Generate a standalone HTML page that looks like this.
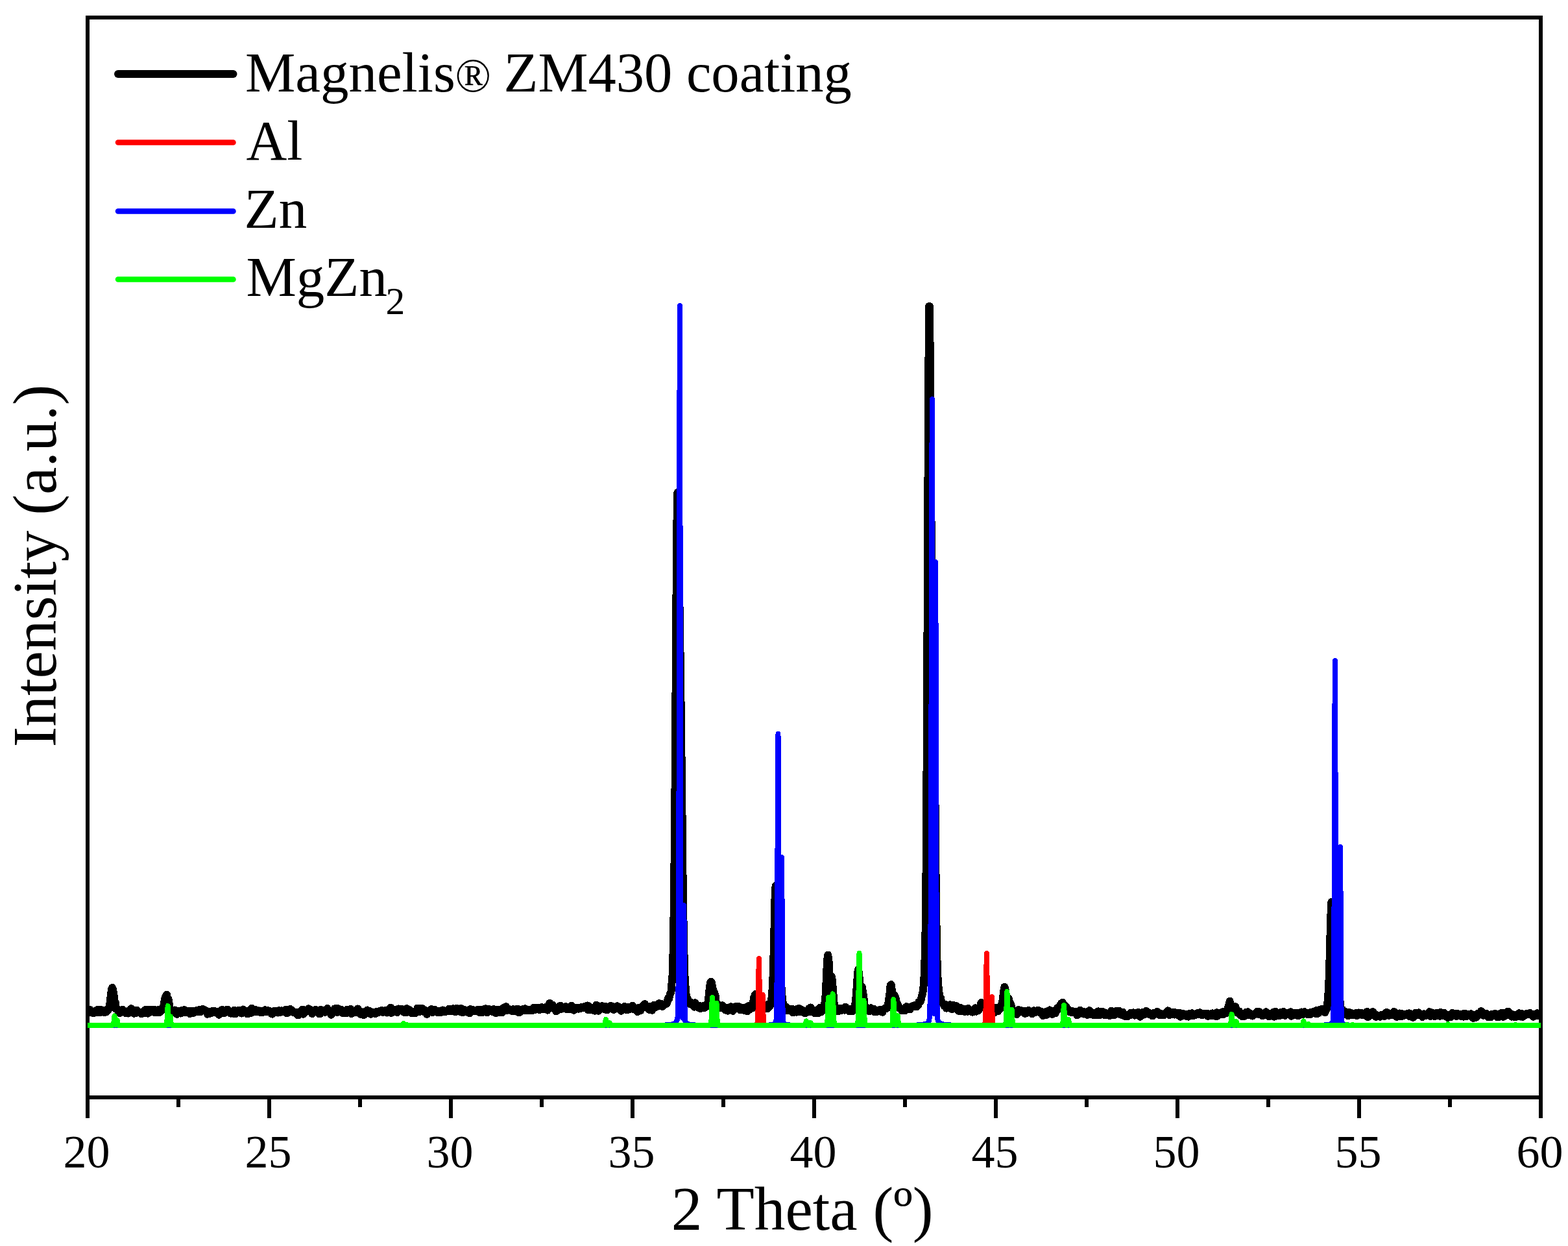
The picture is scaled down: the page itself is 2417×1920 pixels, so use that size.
<!DOCTYPE html>
<html lang="en">
<head>
<meta charset="utf-8">
<title>XRD pattern - Magnelis ZM430 coating</title>
<style>
html,body{margin:0;padding:0;background:#fff;}
body{width:2417px;height:1920px;overflow:hidden;}
svg{display:block;}
text{font-family:"Liberation Serif","Times New Roman",serif;fill:#000;}
.tick{font-size:72px;}
.leg{font-size:87px;}
.ttl{font-size:95.4px;}
.data{fill:none;stroke-linejoin:round;stroke-linecap:butt;}
</style>
</head>
<body>
<svg width="2417" height="1920" viewBox="0 0 2417 1920">
<defs><clipPath id="plotclip"><rect x="135" y="27" width="2240" height="1664"/></clipPath></defs>
<rect x="0" y="0" width="2417" height="1920" fill="#fff"/>
<g class="data" shape-rendering="crispEdges" clip-path="url(#plotclip)">
<polyline stroke="#000" stroke-width="12" points="135,1562.5 136.1,1559.2 137.2,1559.1 138.4,1555.6 139.5,1560.5 140.6,1560.2 141.7,1559.7 142.8,1561 144,1561.1 145.1,1558.4 146.2,1558.5 147.3,1558.8 148.4,1560.3 149.6,1559.5 150.7,1555.8 151.8,1555.6 152.9,1558.8 154,1560.2 155.2,1557.4 156.3,1556.2 157.4,1559.3 158.5,1557 159.6,1558.9 160.8,1560.5 161.9,1559 163,1558.1 164.1,1559.1 165.2,1556.3 166.4,1556.5 167.5,1554.2 168.6,1551.1 169.7,1543.8 170.8,1534.5 172,1524.6 173.1,1521.9 174.2,1525.2 175.3,1531.8 176.4,1541.8 177.6,1544.2 178.7,1554.5 179.8,1554.7 180.9,1554.9 182,1557.8 183.2,1558.9 184.3,1561.2 185.4,1558 186.5,1559.9 187.6,1559.3 188.8,1555.8 189.9,1556.3 191,1559 192.1,1559.7 193.2,1560.8 194.4,1560.2 195.5,1560.4 196.6,1560.4 197.7,1561.6 198.8,1557.4 200,1558 201.1,1558.3 202.2,1554.2 203.3,1559.5 204.4,1556.1 205.6,1557.6 206.7,1561.7 207.8,1556.7 208.9,1557.4 210,1561.2 211.2,1556.7 212.3,1558 213.4,1559.8 214.5,1559.9 215.6,1560.4 216.8,1560.2 217.9,1562.1 219,1561.7 220.1,1560.9 221.2,1558.6 222.4,1558.5 223.5,1556.3 224.6,1560.8 225.7,1556 226.8,1560.4 228,1561.7 229.1,1556.2 230.2,1556.5 231.3,1556.8 232.4,1558.9 233.6,1555.8 234.7,1557 235.8,1556.2 236.9,1557 238,1560 239.2,1556.3 240.3,1558.5 241.4,1559.1 242.5,1560.1 243.6,1556.3 244.8,1560.3 245.9,1559 247,1559.6 248.1,1557.9 249.2,1554.4 250.4,1555 251.5,1554.9 252.6,1548.5 253.7,1541.1 254.8,1537.1 256,1534.7 257.1,1532.7 258.2,1540.5 259.3,1538.9 260.4,1544.2 261.6,1553.5 262.7,1554 263.8,1556.6 264.9,1557.5 266,1557.3 267.2,1559.2 268.3,1558.9 269.4,1556.5 270.5,1559.8 271.6,1559.9 272.8,1562.9 273.9,1557.9 275,1560 276.1,1558.8 277.2,1558.8 278.4,1561.5 279.5,1558.8 280.6,1556.8 281.7,1557.9 282.8,1559 284,1556 285.1,1557.3 286.2,1560.4 287.3,1559.8 288.4,1558.7 289.6,1558.5 290.7,1559.6 291.8,1557.7 292.9,1562.1 294,1561 295.2,1560.6 296.3,1558 297.4,1559 298.5,1560.7 299.6,1559.7 300.8,1557.9 301.9,1559.2 303,1559.5 304.1,1556.7 305.2,1557 306.4,1556.4 307.5,1555.9 308.6,1559.4 309.7,1558.6 310.8,1558 312,1555.1 313.1,1555 314.2,1556.5 315.3,1556.5 316.4,1558 317.6,1557.1 318.7,1560.1 319.8,1562.7 320.9,1562.1 322,1562.2 323.2,1559.4 324.3,1560.8 325.4,1558.5 326.5,1560.7 327.6,1558.4 328.8,1558.1 329.9,1557.8 331,1560.1 332.1,1560 333.2,1560.4 334.4,1558.6 335.5,1561.5 336.6,1559.3 337.7,1563.7 338.8,1560.3 340,1560.2 341.1,1559.1 342.2,1555.9 343.3,1556.2 344.4,1558.6 345.6,1561.3 346.7,1556.7 347.8,1557.5 348.9,1558.7 350,1555.9 351.2,1556 352.3,1558.4 353.4,1559.1 354.5,1558.4 355.6,1561.6 356.8,1558.6 357.9,1559.4 359,1561.4 360.1,1561.9 361.2,1556.5 362.4,1559 363.5,1562 364.6,1557.9 365.7,1558.3 366.8,1557.4 368,1556.9 369.1,1557 370.2,1558.9 371.3,1560.9 372.4,1561.5 373.6,1558.9 374.7,1555.5 375.8,1558.9 376.9,1559 378,1560.7 379.2,1560.4 380.3,1558.1 381.4,1562.5 382.5,1557.4 383.6,1559.1 384.8,1560.1 385.9,1559.4 387,1560.8 388.1,1553.8 389.2,1558.4 390.4,1558.8 391.5,1556.9 392.6,1558.4 393.7,1555.7 394.8,1559.1 396,1559.3 397.1,1557 398.2,1557.9 399.3,1558.5 400.4,1557.5 401.6,1560.3 402.7,1558.5 403.8,1560.3 404.9,1560.1 406,1558.1 407.2,1557.7 408.3,1556.3 409.4,1556.6 410.5,1556.8 411.6,1559.1 412.8,1557.1 413.9,1559 415,1559.4 416.1,1558.4 417.2,1559.1 418.4,1562.1 419.5,1562.6 420.6,1558.5 421.7,1559 422.8,1558 424,1557.6 425.1,1560.1 426.2,1558 427.3,1559.4 428.4,1560.6 429.6,1557.1 430.7,1557.9 431.8,1558.6 432.9,1559.8 434,1557.4 435.2,1558.2 436.3,1558.6 437.4,1558.1 438.5,1557.6 439.6,1556.3 440.8,1555.7 441.9,1561.2 443,1560.8 444.1,1557.8 445.2,1558.1 446.4,1557.7 447.5,1555 448.6,1557.9 449.7,1556.5 450.8,1557.8 452,1560 453.1,1559 454.2,1560.6 455.3,1560.6 456.4,1560.3 457.6,1560.6 458.7,1564.1 459.8,1560.8 460.9,1563.8 462,1559.3 463.2,1562 464.3,1560.9 465.4,1559.2 466.5,1555.6 467.6,1562.8 468.8,1557.8 469.9,1557.8 471,1559.5 472.1,1558.8 473.2,1558.5 474.4,1557 475.5,1554.2 476.6,1557.7 477.7,1555.6 478.8,1558.6 480,1560.2 481.1,1562.2 482.2,1560.8 483.3,1560.1 484.4,1559.6 485.6,1556.1 486.7,1557.5 487.8,1556.4 488.9,1556.5 490,1559.1 491.2,1558.6 492.3,1562.2 493.4,1562.4 494.5,1556.1 495.6,1559.3 496.8,1557 497.9,1559.4 499,1558.3 500.1,1559.8 501.2,1558.7 502.4,1559.6 503.5,1557.8 504.6,1554 505.7,1556.8 506.8,1557.9 508,1559 509.1,1558.5 510.2,1563.7 511.3,1559.6 512.4,1561.4 513.6,1557.6 514.7,1560.3 515.8,1554.4 516.9,1557.7 518,1554.4 519.2,1557.6 520.3,1559.8 521.4,1554.2 522.5,1555.8 523.6,1558 524.8,1557.5 525.9,1555.7 527,1560.3 528.1,1558.7 529.2,1561.3 530.4,1559.9 531.5,1557.7 532.6,1559.2 533.7,1561.5 534.8,1555.8 536,1556.5 537.1,1557.4 538.2,1557.2 539.3,1557.8 540.4,1554.8 541.6,1562 542.7,1559 543.8,1560.3 544.9,1559.9 546,1559 547.2,1557.3 548.3,1558 549.4,1560.4 550.5,1556 551.6,1554.4 552.8,1559.9 553.9,1559.9 555,1560.8 556.1,1563.1 557.2,1559.3 558.4,1561.4 559.5,1562.4 560.6,1564.2 561.7,1563.3 562.8,1559.5 564,1558 565.1,1559.4 566.2,1556.5 567.3,1561.4 568.4,1558.9 569.6,1559.1 570.7,1558.4 571.8,1562.7 572.9,1560.6 574,1559.5 575.2,1561.4 576.3,1560.2 577.4,1561.5 578.5,1562.3 579.6,1559.1 580.8,1560 581.9,1559.5 583,1560.2 584.1,1559.4 585.2,1558.5 586.4,1557.5 587.5,1559.2 588.6,1557 589.7,1559.9 590.8,1558.8 592,1559.5 593.1,1557.6 594.2,1557 595.3,1556.9 596.4,1560.5 597.6,1558.3 598.7,1558.4 599.8,1555.8 600.9,1558.7 602,1552.6 603.2,1560.9 604.3,1557.9 605.4,1558.3 606.5,1555.7 607.6,1556.2 608.8,1559.1 609.9,1557.6 611,1558.7 612.1,1560.1 613.2,1559.1 614.4,1554.5 615.5,1556.1 616.6,1555.8 617.7,1556.6 618.8,1554.9 620,1555.3 621.1,1557.9 622.2,1558.5 623.3,1560 624.4,1557.9 625.6,1560.4 626.7,1554.2 627.8,1554.4 628.9,1557.7 630,1557.1 631.2,1556.2 632.3,1559.7 633.4,1560.6 634.5,1561.3 635.6,1558.7 636.8,1559.7 637.9,1560.4 639,1560.5 640.1,1561.4 641.2,1558.1 642.4,1558.9 643.5,1553.6 644.6,1558.1 645.7,1559.5 646.8,1556.5 648,1558.3 649.1,1553.5 650.2,1555.7 651.3,1554.2 652.4,1558.1 653.6,1559 654.7,1556.3 655.8,1557.9 656.9,1557.9 658,1562.8 659.2,1558 660.3,1557.9 661.4,1557.9 662.5,1557.8 663.6,1556.9 664.8,1555 665.9,1556.1 667,1560.1 668.1,1558.1 669.2,1557.3 670.4,1555.9 671.5,1558.5 672.6,1559 673.7,1557.7 674.8,1560.3 676,1557.6 677.1,1558.2 678.2,1559.9 679.3,1558.5 680.4,1559.8 681.6,1557.2 682.7,1556.6 683.8,1557.9 684.9,1557.5 686,1559.2 687.2,1558 688.3,1557.3 689.4,1558.2 690.5,1558.2 691.6,1554.8 692.8,1556.2 693.9,1555.5 695,1557.9 696.1,1555.1 697.2,1558.1 698.4,1554.2 699.5,1556.5 700.6,1558.7 701.7,1556.5 702.8,1559.1 704,1553.6 705.1,1557.3 706.2,1557.7 707.3,1557.3 708.4,1555 709.6,1559 710.7,1553.9 711.8,1559.8 712.9,1558.6 714,1559.8 715.2,1557.6 716.3,1556.1 717.4,1557.1 718.5,1557.5 719.6,1559.6 720.8,1558.3 721.9,1559.9 723,1560.3 724.1,1561.4 725.2,1555 726.4,1557.2 727.5,1558.7 728.6,1558.2 729.7,1556.3 730.8,1557 732,1557.6 733.1,1558.2 734.2,1557.3 735.3,1556.9 736.4,1555.9 737.6,1557 738.7,1559.9 739.8,1555.6 740.9,1558.6 742,1559.9 743.2,1556.5 744.3,1560 745.4,1555.2 746.5,1558.7 747.6,1556 748.8,1554.3 749.9,1557.4 751,1560.4 752.1,1556.1 753.2,1557.9 754.4,1555.3 755.5,1555.5 756.6,1557.8 757.7,1556.8 758.8,1558.2 760,1559.5 761.1,1555.2 762.2,1556.1 763.3,1557.3 764.4,1561.2 765.6,1556.5 766.7,1556.2 767.8,1557.7 768.9,1560.5 770,1555.7 771.2,1556.1 772.3,1556.5 773.4,1557.7 774.5,1559.9 775.6,1553.6 776.8,1552.5 777.9,1555.4 779,1555.8 780.1,1551.1 781.2,1554 782.4,1556.9 783.5,1554.4 784.6,1556.3 785.7,1555.9 786.8,1556.9 788,1556.6 789.1,1556.4 790.2,1558.3 791.3,1555.2 792.4,1556.4 793.6,1558.3 794.7,1555.4 795.8,1555.8 796.9,1555.1 798,1554.8 799.2,1560 800.3,1557.3 801.4,1559.8 802.5,1557.6 803.6,1556.3 804.8,1555.5 805.9,1556.3 807,1555.6 808.1,1557.4 809.2,1554.3 810.4,1556.1 811.5,1556.7 812.6,1555.5 813.7,1555.7 814.8,1557.2 816,1557.4 817.1,1556.4 818.2,1556.8 819.3,1555.5 820.4,1557 821.6,1555.5 822.7,1552.6 823.8,1554.5 824.9,1555.8 826,1555 827.2,1552.7 828.3,1555.3 829.4,1554.9 830.5,1554.6 831.6,1556 832.8,1552.5 833.9,1553.8 835,1552.1 836.1,1554.6 837.2,1555.2 838.4,1554.4 839.5,1555.1 840.6,1552.5 841.7,1554.9 842.8,1551.4 844,1556.7 845.1,1554.2 846.2,1548.8 847.3,1545.8 848.4,1552.1 849.6,1548.3 850.7,1551.2 851.8,1548.6 852.9,1552.3 854,1552.2 855.2,1555.3 856.3,1554.5 857.4,1558.3 858.5,1553.9 859.6,1556.9 860.8,1554 861.9,1554.4 863,1550.1 864.1,1549.9 865.2,1554.9 866.4,1551.1 867.5,1552.7 868.6,1552.9 869.7,1552 870.8,1554 872,1551.2 873.1,1551.7 874.2,1555.5 875.3,1552.1 876.4,1554.5 877.6,1554 878.7,1555.2 879.8,1553 880.9,1549.6 882,1552.2 883.2,1553.2 884.3,1556.7 885.4,1555.7 886.5,1553.8 887.6,1555 888.8,1553.1 889.9,1554.2 891,1553.1 892.1,1554.6 893.2,1553.2 894.4,1554.2 895.5,1552.3 896.6,1553.5 897.7,1551.8 898.8,1553 900,1552.1 901.1,1551.3 902.2,1550.6 903.3,1551.6 904.4,1553.6 905.6,1549.5 906.7,1556.4 907.8,1550.7 908.9,1554.6 910,1554.5 911.2,1556.4 912.3,1555.7 913.4,1555.2 914.5,1554.9 915.6,1555.8 916.8,1557.6 917.9,1553.6 919,1548.7 920.1,1551.5 921.2,1552.8 922.4,1557.8 923.5,1550.5 924.6,1551.1 925.7,1553 926.8,1552.8 928,1550.2 929.1,1554.4 930.2,1550.7 931.3,1552.6 932.4,1555.5 933.6,1551 934.7,1552.8 935.8,1556.4 936.9,1552.9 938,1551.4 939.2,1552 940.3,1554.4 941.4,1550 942.5,1551.9 943.6,1550.7 944.8,1551.5 945.9,1556 947,1553.9 948.1,1552.9 949.2,1554 950.4,1551.5 951.5,1550.3 952.6,1554 953.7,1554.3 954.8,1552.1 956,1555.6 957.1,1557.7 958.2,1556.8 959.3,1556.4 960.4,1552.9 961.6,1554.4 962.7,1550.9 963.8,1555.6 964.9,1553.5 966,1556.3 967.2,1552.8 968.3,1555.8 969.4,1551.7 970.5,1553.3 971.6,1554.6 972.8,1553.9 973.9,1552.8 975,1549.6 976.1,1555.1 977.2,1554.3 978.4,1555.5 979.5,1555.8 980.6,1553.5 981.7,1555 982.8,1559.1 984,1553.1 985.1,1555.4 986.2,1553.9 987.3,1557.3 988.4,1553.8 989.6,1551 990.7,1551.1 991.8,1549.1 992.9,1547.7 994,1547.1 995.2,1550.8 996.3,1550.2 997.4,1552.6 998.5,1551 999.6,1553.1 1000.8,1555.9 1001.9,1550.9 1003,1550.9 1004.1,1554.6 1005.2,1556.7 1006.4,1550.7 1007.5,1549 1008.6,1551.2 1009.7,1550.5 1010.8,1552 1012,1548.4 1013.1,1549.3 1014.2,1548.7 1015.3,1546.4 1016.4,1546.3 1017.6,1549.7 1018.7,1549.6 1019.8,1547 1020.9,1551 1022,1549.7 1023.2,1548.6 1024.3,1548.5 1025.4,1547.5 1026.5,1547.2 1027.6,1546.3 1028.8,1543.5 1029.9,1538 1031,1539.3 1032.1,1535.3 1033.2,1530.9 1034.4,1528.6 1035.5,1515.2 1036.6,1501.9 1037.7,1463.8 1038.8,1395.5 1040,1284.9 1041.1,1135.3 1042.2,958.4 1043.3,810.7 1044.4,759 1045.6,801.2 1046.7,877.4 1047.8,955.6 1048.9,1031.2 1050,1120 1051.2,1225 1052.3,1331.6 1053.4,1412.8 1054.5,1470.3 1055.6,1507.2 1056.8,1522.2 1057.9,1535.8 1059,1537.1 1060.1,1539.6 1061.2,1542.5 1062.4,1545.7 1063.5,1546.8 1064.6,1547.6 1065.7,1544.9 1066.8,1546.2 1068,1548 1069.1,1550.1 1070.2,1551.6 1071.3,1545.3 1072.4,1549.9 1073.6,1549.9 1074.7,1551 1075.8,1552.1 1076.9,1550.4 1078,1549.8 1079.2,1554.1 1080.3,1553.8 1081.4,1551.8 1082.5,1552.3 1083.6,1551.2 1084.8,1549.8 1085.9,1553.2 1087,1550.6 1088.1,1549.1 1089.2,1548.8 1090.4,1550.2 1091.5,1543.1 1092.6,1534.5 1093.7,1523.5 1094.8,1515.3 1096,1512.7 1097.1,1514.1 1098.2,1522.1 1099.3,1524.9 1100.4,1528.3 1101.6,1531.4 1102.7,1534 1103.8,1545.7 1104.9,1548.3 1106,1547.2 1107.2,1553.6 1108.3,1552.3 1109.4,1553.2 1110.5,1552.5 1111.6,1552.7 1112.8,1551.4 1113.9,1549.3 1115,1551.1 1116.1,1553.5 1117.2,1554.2 1118.4,1556.2 1119.5,1555.8 1120.6,1552.9 1121.7,1557.6 1122.8,1554.2 1124,1552.6 1125.1,1553.8 1126.2,1551.3 1127.3,1554.6 1128.4,1552.6 1129.6,1557.9 1130.7,1554.2 1131.8,1553.9 1132.9,1553.7 1134,1551.1 1135.2,1553.4 1136.3,1553.6 1137.4,1554.4 1138.5,1550.7 1139.6,1554.4 1140.8,1556.4 1141.9,1553 1143,1553.4 1144.1,1554.8 1145.2,1553.1 1146.4,1554.3 1147.5,1557.2 1148.6,1556.4 1149.7,1553.3 1150.8,1551.7 1152,1558.3 1153.1,1554.3 1154.2,1550 1155.3,1553.7 1156.4,1555 1157.6,1553.9 1158.7,1549.3 1159.8,1553.4 1160.9,1545.5 1162,1537.9 1163.2,1534.8 1164.3,1532.2 1165.4,1533.9 1166.5,1538.9 1167.6,1535.6 1168.8,1542.1 1169.9,1543.2 1171,1546.9 1172.1,1550.1 1173.2,1553.6 1174.4,1554.9 1175.5,1554.8 1176.6,1552.9 1177.7,1554.9 1178.8,1552.7 1180,1551.6 1181.1,1553.8 1182.2,1553.3 1183.3,1554.2 1184.4,1547.5 1185.6,1551.4 1186.7,1550.1 1187.8,1546.8 1188.9,1545.1 1190,1531.9 1191.2,1515.3 1192.3,1480.9 1193.4,1434.6 1194.5,1385 1195.6,1365.1 1196.8,1384.7 1197.9,1415.9 1199,1437 1200.1,1441.1 1201.2,1452 1202.4,1468.5 1203.5,1497.6 1204.6,1522.8 1205.7,1536.6 1206.8,1546.3 1208,1548.9 1209.1,1553 1210.2,1551.5 1211.3,1552.7 1212.4,1551.9 1213.6,1555.4 1214.7,1557.4 1215.8,1557.3 1216.9,1555.1 1218,1556 1219.2,1556.7 1220.3,1557.2 1221.4,1554.8 1222.5,1560.4 1223.6,1556.8 1224.8,1557.1 1225.9,1555.9 1227,1556.5 1228.1,1559.7 1229.2,1554.5 1230.4,1555 1231.5,1553.9 1232.6,1554.6 1233.7,1559.3 1234.8,1556.5 1236,1557.8 1237.1,1556.4 1238.2,1560 1239.3,1560.7 1240.4,1559.2 1241.6,1559 1242.7,1560.8 1243.8,1560 1244.9,1558.1 1246,1556.1 1247.2,1554.1 1248.3,1558.9 1249.4,1552.4 1250.5,1557.1 1251.6,1556.5 1252.8,1556.4 1253.9,1560 1255,1558 1256.1,1561.2 1257.2,1556.8 1258.4,1559.1 1259.5,1560.2 1260.6,1555.8 1261.7,1561 1262.8,1558.6 1264,1552.9 1265.1,1558.9 1266.2,1559.4 1267.3,1555.2 1268.4,1554.7 1269.6,1554.5 1270.7,1547.6 1271.8,1543.9 1272.9,1529.4 1274,1501.6 1275.2,1478.4 1276.3,1471.6 1277.4,1479.4 1278.5,1499.2 1279.6,1509 1280.8,1507.8 1281.9,1504.9 1283,1512.1 1284.1,1527.5 1285.2,1541.3 1286.4,1553.3 1287.5,1552.4 1288.6,1554.8 1289.7,1557.7 1290.8,1555.4 1292,1553.9 1293.1,1557.8 1294.2,1555.5 1295.3,1553.8 1296.4,1554.3 1297.6,1556.7 1298.7,1554.4 1299.8,1555.5 1300.9,1556.5 1302,1556.6 1303.2,1551.5 1304.3,1553.8 1305.4,1554 1306.5,1555.3 1307.6,1557.1 1308.8,1558.3 1309.9,1556 1311,1555.3 1312.1,1556.9 1313.2,1554.8 1314.4,1558 1315.5,1554.5 1316.6,1552.3 1317.7,1551.5 1318.8,1542.6 1320,1531.4 1321.1,1513.9 1322.2,1497.9 1323.3,1494 1324.4,1504 1325.6,1517.8 1326.7,1522.7 1327.8,1522.7 1328.9,1520.6 1330,1528.8 1331.2,1535.8 1332.3,1545.8 1333.4,1552.2 1334.5,1555.8 1335.6,1554.3 1336.8,1555.7 1337.9,1554.9 1339,1554.2 1340.1,1558.3 1341.2,1557 1342.4,1553.3 1343.5,1554 1344.6,1556.5 1345.7,1555 1346.8,1554.9 1348,1559.5 1349.1,1557 1350.2,1557.8 1351.3,1559.2 1352.4,1556.7 1353.6,1557.7 1354.7,1557.6 1355.8,1558.3 1356.9,1555.6 1358,1558.8 1359.2,1557.3 1360.3,1559.8 1361.4,1556.9 1362.5,1555.2 1363.6,1554.7 1364.8,1553.2 1365.9,1554.5 1367,1553.3 1368.1,1553 1369.2,1547.3 1370.4,1537.8 1371.5,1530.3 1372.6,1518 1373.7,1517.1 1374.8,1525.7 1376,1532.9 1377.1,1532.8 1378.2,1532.9 1379.3,1534.5 1380.4,1537.1 1381.6,1542.6 1382.7,1549 1383.8,1547.5 1384.9,1552.8 1386,1551.8 1387.2,1553.6 1388.3,1554.4 1389.4,1556 1390.5,1557.3 1391.6,1556.6 1392.8,1555.6 1393.9,1554.4 1395,1557.2 1396.1,1555.1 1397.2,1551.2 1398.4,1553.9 1399.5,1554.5 1400.6,1551.6 1401.7,1553.4 1402.8,1555.5 1404,1552.1 1405.1,1552.2 1406.2,1551.9 1407.3,1550 1408.4,1550.6 1409.6,1549.4 1410.7,1550.2 1411.8,1548.8 1412.9,1551.2 1414,1548.4 1415.2,1549 1416.3,1544 1417.4,1544.5 1418.5,1543.5 1419.6,1541 1420.8,1535.3 1421.9,1531.7 1423,1525.7 1424.1,1513.7 1425.2,1491.5 1426.4,1445.8 1427.5,1346.6 1428.6,1176.5 1429.7,935.6 1430.8,667.4 1432,472.3 1433.1,472 1434.2,616.4 1435.3,785.2 1436.4,880.5 1437.6,908.7 1438.7,937.9 1439.8,1027.6 1440.9,1164.3 1442,1301 1443.2,1406.3 1444.3,1473.8 1445.4,1504.4 1446.5,1520.7 1447.6,1530.5 1448.8,1537.4 1449.9,1537.3 1451,1542.4 1452.1,1544.7 1453.2,1546.1 1454.4,1547.1 1455.5,1550.3 1456.6,1550.7 1457.7,1547.7 1458.8,1553.6 1460,1551.9 1461.1,1551.9 1462.2,1551 1463.3,1551.7 1464.4,1548.3 1465.6,1552.8 1466.7,1554.7 1467.8,1555.2 1468.9,1552.5 1470,1549.1 1471.2,1550.8 1472.3,1551.8 1473.4,1554.2 1474.5,1550.3 1475.6,1554.4 1476.8,1556.6 1477.9,1557.8 1479,1557.8 1480.1,1552.7 1481.2,1558.3 1482.4,1557.1 1483.5,1557.5 1484.6,1554.5 1485.7,1555.3 1486.8,1558.8 1488,1556 1489.1,1556.2 1490.2,1554.9 1491.3,1558.7 1492.4,1553.8 1493.6,1556.1 1494.7,1558 1495.8,1557.5 1496.9,1558.9 1498,1558 1499.2,1559.6 1500.3,1556.5 1501.4,1556.4 1502.5,1557 1503.6,1553.2 1504.8,1558.6 1505.9,1554.2 1507,1557.3 1508.1,1557.4 1509.2,1555.7 1510.4,1552.8 1511.5,1549.4 1512.6,1544.8 1513.7,1547.8 1514.8,1546.3 1516,1550.8 1517.1,1548.4 1518.2,1550.9 1519.3,1549.4 1520.4,1551.3 1521.6,1550.7 1522.7,1552.2 1523.8,1550.4 1524.9,1554 1526,1556.2 1527.2,1559.6 1528.3,1558.5 1529.4,1556.4 1530.5,1561.4 1531.6,1559.2 1532.8,1560.5 1533.9,1556.9 1535,1552.5 1536.1,1556.9 1537.2,1556.3 1538.4,1558.4 1539.5,1554.9 1540.6,1555.5 1541.7,1553.5 1542.8,1553.9 1544,1547.9 1545.1,1545.4 1546.2,1535.5 1547.3,1527.1 1548.4,1520.9 1549.6,1524.5 1550.7,1532.4 1551.8,1535.2 1552.9,1540.7 1554,1537.8 1555.2,1540 1556.3,1544.4 1557.4,1547.5 1558.5,1547.9 1559.6,1555.9 1560.8,1555.9 1561.9,1557.3 1563,1558.8 1564.1,1557.7 1565.2,1560.6 1566.4,1559.3 1567.5,1562.9 1568.6,1561.8 1569.7,1556.1 1570.8,1558.4 1572,1557.8 1573.1,1557.8 1574.2,1557.3 1575.3,1559.2 1576.4,1558.9 1577.6,1557.6 1578.7,1560.7 1579.8,1561.9 1580.9,1559.8 1582,1561.4 1583.2,1559.5 1584.3,1557.3 1585.4,1557.1 1586.5,1558.3 1587.6,1559.7 1588.8,1559.6 1589.9,1561.5 1591,1562.3 1592.1,1558.1 1593.2,1557.4 1594.4,1558.8 1595.5,1559.4 1596.6,1559.7 1597.7,1559.4 1598.8,1559.5 1600,1556.8 1601.1,1559.3 1602.2,1557.6 1603.3,1559.9 1604.4,1561.1 1605.6,1558.8 1606.7,1559.9 1607.8,1565.1 1608.9,1559.7 1610,1560.4 1611.2,1559.6 1612.3,1559.2 1613.4,1563.7 1614.5,1560.6 1615.6,1560.6 1616.8,1560.1 1617.9,1556.4 1619,1562.5 1620.1,1560 1621.2,1560.6 1622.4,1562.9 1623.5,1560 1624.6,1560.2 1625.7,1559.9 1626.8,1561.5 1628,1556.4 1629.1,1556.9 1630.2,1552.9 1631.3,1555.3 1632.4,1554.3 1633.6,1549.6 1634.7,1550.9 1635.8,1546.4 1636.9,1547.1 1638,1544.7 1639.2,1549.7 1640.3,1547.9 1641.4,1551.6 1642.5,1551.9 1643.6,1551.6 1644.8,1556.5 1645.9,1557.5 1647,1555.6 1648.1,1559.1 1649.2,1558.8 1650.4,1559.2 1651.5,1560 1652.6,1557.8 1653.7,1559.5 1654.8,1560 1656,1558.7 1657.1,1559.2 1658.2,1561.8 1659.3,1560.3 1660.4,1564.3 1661.6,1563.7 1662.7,1558.5 1663.8,1560.2 1664.9,1556.6 1666,1559.6 1667.2,1559.7 1668.3,1560.5 1669.4,1558.6 1670.5,1562.6 1671.6,1562.2 1672.8,1560.3 1673.9,1561.4 1675,1563 1676.1,1563.9 1677.2,1558.4 1678.4,1563.3 1679.5,1557.1 1680.6,1558.4 1681.7,1559.5 1682.8,1563.3 1684,1562.1 1685.1,1562.4 1686.2,1564.5 1687.3,1562.1 1688.4,1560.8 1689.6,1564.2 1690.7,1561.1 1691.8,1559.2 1692.9,1558.3 1694,1561.5 1695.2,1564.4 1696.3,1562.2 1697.4,1560.9 1698.5,1563.2 1699.6,1558.6 1700.8,1562.2 1701.9,1560.6 1703,1564.2 1704.1,1560.6 1705.2,1563.8 1706.4,1563.1 1707.5,1563.1 1708.6,1564.6 1709.7,1562.7 1710.8,1565 1712,1561.6 1713.1,1557.7 1714.2,1563.6 1715.3,1563.6 1716.4,1562.2 1717.6,1564 1718.7,1562.9 1719.8,1560.3 1720.9,1557.9 1722,1559.4 1723.2,1560.5 1724.3,1561.6 1725.4,1557.9 1726.5,1559.1 1727.6,1563.6 1728.8,1560 1729.9,1560.2 1731,1560.1 1732.1,1565.1 1733.2,1564.1 1734.4,1564.7 1735.5,1566.5 1736.6,1565.8 1737.7,1566.2 1738.8,1564.3 1740,1565 1741.1,1564.3 1742.2,1564.2 1743.3,1560.6 1744.4,1562 1745.6,1561.4 1746.7,1560.5 1747.8,1561.3 1748.9,1564.6 1750,1563.1 1751.2,1561.6 1752.3,1562.1 1753.4,1564 1754.5,1559.8 1755.6,1563.2 1756.8,1565.9 1757.9,1566.6 1759,1565.5 1760.1,1564.5 1761.2,1560 1762.4,1561.6 1763.5,1562.4 1764.6,1562.8 1765.7,1562.7 1766.8,1557.9 1768,1560.9 1769.1,1562.2 1770.2,1560.3 1771.3,1561.7 1772.4,1563.4 1773.6,1563.5 1774.7,1563.7 1775.8,1565.1 1776.9,1565.4 1778,1562.5 1779.2,1560.7 1780.3,1560.9 1781.4,1560.9 1782.5,1561.6 1783.6,1559 1784.8,1560.2 1785.9,1561 1787,1563.8 1788.1,1562.6 1789.2,1561.7 1790.4,1563.8 1791.5,1562.9 1792.6,1563.3 1793.7,1564.3 1794.8,1562.6 1796,1561.8 1797.1,1562.4 1798.2,1559.7 1799.3,1561 1800.4,1557.4 1801.6,1560.6 1802.7,1564.3 1803.8,1561.2 1804.9,1561.7 1806,1560.9 1807.2,1559.7 1808.3,1562.3 1809.4,1561.3 1810.5,1563.5 1811.6,1560.3 1812.8,1562.2 1813.9,1561.7 1815,1561.5 1816.1,1564.4 1817.2,1561.2 1818.4,1561.1 1819.5,1566.7 1820.6,1562.1 1821.7,1562.4 1822.8,1564.1 1824,1562 1825.1,1564.9 1826.2,1562.7 1827.3,1563.7 1828.4,1563.2 1829.6,1566.3 1830.7,1564.7 1831.8,1566.6 1832.9,1566.1 1834,1561.8 1835.2,1563.7 1836.3,1561.9 1837.4,1561.3 1838.5,1564.7 1839.6,1565.3 1840.8,1563.1 1841.9,1563.6 1843,1563.7 1844.1,1563.5 1845.2,1563.4 1846.4,1560.8 1847.5,1563.4 1848.6,1560.9 1849.7,1560.2 1850.8,1562.1 1852,1563 1853.1,1564.1 1854.2,1563.4 1855.3,1563.4 1856.4,1561.8 1857.6,1563.7 1858.7,1563.5 1859.8,1563.7 1860.9,1561.8 1862,1566.1 1863.2,1564.4 1864.3,1564.2 1865.4,1563.2 1866.5,1562.8 1867.6,1565.1 1868.8,1561.4 1869.9,1563.2 1871,1563.7 1872.1,1565 1873.2,1563.2 1874.4,1566 1875.5,1560.2 1876.6,1565.8 1877.7,1563.3 1878.8,1564 1880,1561.1 1881.1,1563.5 1882.2,1560.8 1883.3,1562 1884.4,1559.2 1885.6,1562.9 1886.7,1562.4 1887.8,1559 1888.9,1561.6 1890,1560.4 1891.2,1560.9 1892.3,1555.2 1893.4,1551.3 1894.5,1548.1 1895.6,1542.7 1896.8,1552 1897.9,1555.7 1899,1559.5 1900.1,1557.2 1901.2,1553.7 1902.4,1554.9 1903.5,1550.8 1904.6,1551.8 1905.7,1558.2 1906.8,1560.1 1908,1560.6 1909.1,1558.7 1910.2,1558.4 1911.3,1563.8 1912.4,1562.3 1913.6,1562.1 1914.7,1566.1 1915.8,1562.2 1916.9,1563.2 1918,1566 1919.2,1562.9 1920.3,1560.5 1921.4,1559.6 1922.5,1563.4 1923.6,1559.2 1924.8,1563 1925.9,1564.5 1927,1561.6 1928.1,1563.6 1929.2,1562.7 1930.4,1565.5 1931.5,1563.8 1932.6,1562.5 1933.7,1563.8 1934.8,1562.8 1936,1560.9 1937.1,1561 1938.2,1558.7 1939.3,1559.9 1940.4,1563 1941.6,1559.2 1942.7,1563.5 1943.8,1563.6 1944.9,1562.3 1946,1565.5 1947.2,1563.9 1948.3,1561.3 1949.4,1562.4 1950.5,1563.7 1951.6,1559.2 1952.8,1562.3 1953.9,1561.5 1955,1562.6 1956.1,1566.2 1957.2,1562 1958.4,1563.1 1959.5,1562.2 1960.6,1565.3 1961.7,1565.7 1962.8,1560 1964,1566.6 1965.1,1566.5 1966.2,1558.7 1967.3,1560.6 1968.4,1564 1969.6,1563.2 1970.7,1565 1971.8,1562.4 1972.9,1565 1974,1560.1 1975.2,1563.1 1976.3,1561.4 1977.4,1561.2 1978.5,1559 1979.6,1561.5 1980.8,1564.8 1981.9,1561.3 1983,1562.2 1984.1,1562.7 1985.2,1560.7 1986.4,1562.8 1987.5,1563.2 1988.6,1561.7 1989.7,1559.3 1990.8,1565.8 1992,1563.7 1993.1,1564.1 1994.2,1564.3 1995.3,1563.2 1996.4,1560.9 1997.6,1563.3 1998.7,1563.2 1999.8,1564.2 2000.9,1565.1 2002,1560.7 2003.2,1564.6 2004.3,1561.7 2005.4,1562.3 2006.5,1559.5 2007.6,1562 2008.8,1559.8 2009.9,1562.7 2011,1559.3 2012.1,1561.8 2013.2,1561.3 2014.4,1562.8 2015.5,1562.9 2016.6,1562.9 2017.7,1561.3 2018.8,1563.3 2020,1562.4 2021.1,1559.6 2022.2,1561.8 2023.3,1559.4 2024.4,1560.8 2025.6,1560.5 2026.7,1560.5 2027.8,1562 2028.9,1557.2 2030,1562.2 2031.2,1556.5 2032.3,1561.4 2033.4,1559.8 2034.5,1555.8 2035.6,1558.6 2036.8,1556.9 2037.9,1554.8 2039,1558.4 2040.1,1558.8 2041.2,1557.9 2042.4,1560.3 2043.5,1557.3 2044.6,1555.3 2045.7,1552.9 2046.8,1539.5 2048,1524.1 2049.1,1495.1 2050.2,1453.1 2051.3,1412 2052.4,1389.9 2053.6,1401.2 2054.7,1434.4 2055.8,1463.8 2056.9,1488.4 2058,1488.3 2059.2,1482.3 2060.3,1469.7 2061.4,1474.6 2062.5,1493.5 2063.6,1516 2064.8,1530.9 2065.9,1548.8 2067,1553.6 2068.1,1556.5 2069.2,1555.4 2070.4,1561.4 2071.5,1559.4 2072.6,1560.5 2073.7,1558.8 2074.8,1563.3 2076,1563.2 2077.1,1561 2078.2,1565.2 2079.3,1560 2080.4,1563.7 2081.6,1563.5 2082.7,1563.7 2083.8,1561.4 2084.9,1561.8 2086,1564 2087.2,1564 2088.3,1561.8 2089.4,1561.2 2090.5,1561.2 2091.6,1565 2092.8,1562.8 2093.9,1562.6 2095,1560.6 2096.1,1561 2097.2,1562.4 2098.4,1560.9 2099.5,1563.9 2100.6,1564.3 2101.7,1562.9 2102.8,1563.7 2104,1564.2 2105.1,1561 2106.2,1565.2 2107.3,1559 2108.4,1567.3 2109.6,1561.2 2110.7,1563.9 2111.8,1563.1 2112.9,1563.9 2114,1561.5 2115.2,1563.3 2116.3,1559 2117.4,1562.7 2118.5,1562 2119.6,1564.4 2120.8,1566.8 2121.9,1564 2123,1566.3 2124.1,1565.5 2125.2,1566.1 2126.4,1566.1 2127.5,1566.6 2128.6,1565.2 2129.7,1564 2130.8,1564.8 2132,1565.1 2133.1,1564.5 2134.2,1566 2135.3,1561.2 2136.4,1562.8 2137.6,1560 2138.7,1561.2 2139.8,1563.5 2140.9,1564.8 2142,1561.9 2143.2,1563.7 2144.3,1563.2 2145.4,1564.1 2146.5,1563.5 2147.6,1562.2 2148.8,1559 2149.9,1560.2 2151,1563.5 2152.1,1562.9 2153.2,1567 2154.4,1563.7 2155.5,1565.5 2156.6,1562.1 2157.7,1561.5 2158.8,1564.1 2160,1566.4 2161.1,1564 2162.2,1562.4 2163.3,1564 2164.4,1564.6 2165.6,1564.6 2166.7,1564.1 2167.8,1562.4 2168.9,1562.1 2170,1563.1 2171.2,1563.6 2172.3,1561.4 2173.4,1566.4 2174.5,1564.7 2175.6,1562.7 2176.8,1565 2177.9,1568 2179,1564.2 2180.1,1564 2181.2,1565.1 2182.4,1560.7 2183.5,1561.8 2184.6,1561.3 2185.7,1564.3 2186.8,1560.4 2188,1564.3 2189.1,1563.2 2190.2,1563.9 2191.3,1563.4 2192.4,1567 2193.6,1562.9 2194.7,1562.4 2195.8,1565.1 2196.9,1563.2 2198,1564.8 2199.2,1563.6 2200.3,1563.4 2201.4,1563.2 2202.5,1559.9 2203.6,1559.1 2204.8,1566 2205.9,1560.1 2207,1562.9 2208.1,1560.5 2209.2,1562.7 2210.4,1562.9 2211.5,1566.3 2212.6,1563.9 2213.7,1561 2214.8,1560.8 2216,1563.3 2217.1,1563.8 2218.2,1565.3 2219.3,1565.8 2220.4,1559.8 2221.6,1562.4 2222.7,1560.7 2223.8,1563.6 2224.9,1564.8 2226,1560.6 2227.2,1565.6 2228.3,1565.7 2229.4,1564.3 2230.5,1563.9 2231.6,1568.1 2232.8,1565.1 2233.9,1563.7 2235,1566 2236.1,1567.2 2237.2,1566.2 2238.4,1561.1 2239.5,1561.8 2240.6,1563 2241.7,1564.2 2242.8,1564.4 2244,1562 2245.1,1566 2246.2,1565.4 2247.3,1562.1 2248.4,1563.4 2249.6,1565.1 2250.7,1562.9 2251.8,1565.9 2252.9,1565.5 2254,1563.8 2255.2,1565 2256.3,1566.6 2257.4,1561.6 2258.5,1563.8 2259.6,1562.3 2260.8,1565.9 2261.9,1565.6 2263,1563.6 2264.1,1562.7 2265.2,1565.3 2266.4,1564 2267.5,1562.2 2268.6,1562.8 2269.7,1564.5 2270.8,1568.9 2272,1567.3 2273.1,1568 2274.2,1567.5 2275.3,1567.7 2276.4,1567.2 2277.6,1562 2278.7,1564.3 2279.8,1563.7 2280.9,1563.5 2282,1563.3 2283.2,1558.1 2284.3,1562.9 2285.4,1560.2 2286.5,1564.8 2287.6,1562.8 2288.8,1563.8 2289.9,1564.7 2291,1561.8 2292.1,1565.2 2293.2,1563.3 2294.4,1567.3 2295.5,1564.7 2296.6,1563.7 2297.7,1567.4 2298.8,1564.2 2300,1562.6 2301.1,1563.6 2302.2,1563 2303.3,1563.9 2304.4,1561.9 2305.6,1565.7 2306.7,1564.6 2307.8,1567.1 2308.9,1565.4 2310,1563 2311.2,1566.8 2312.3,1564.7 2313.4,1565.6 2314.5,1560.8 2315.6,1562.6 2316.8,1566.9 2317.9,1566.1 2319,1560.8 2320.1,1564 2321.2,1563.6 2322.4,1564.7 2323.5,1560.2 2324.6,1558.6 2325.7,1562.7 2326.8,1561.6 2328,1562.3 2329.1,1562.3 2330.2,1566.6 2331.3,1563.1 2332.4,1566.5 2333.6,1566.1 2334.7,1564 2335.8,1567.1 2336.9,1567 2338,1564.9 2339.2,1563.2 2340.3,1564.4 2341.4,1561.2 2342.5,1564 2343.6,1566.5 2344.8,1562.1 2345.9,1562 2347,1567.1 2348.1,1563.9 2349.2,1564.2 2350.4,1564.8 2351.5,1563.1 2352.6,1563.9 2353.7,1561.6 2354.8,1562 2356,1562.4 2357.1,1563.1 2358.2,1561 2359.3,1562.9 2360.4,1563.9 2361.6,1564.2 2362.7,1563.7 2363.8,1566.7 2364.9,1562.6 2366,1565.3 2367.2,1564.8 2368.3,1564.2 2369.4,1561.2 2370.5,1564.6 2371.6,1564.5 2372.8,1562.5 2373.9,1564.6 2375,1563.6"/>
</g>
<rect x="135" y="27" width="2240" height="1664" fill="none" stroke="#000" stroke-width="6"/>
<g stroke="#000" stroke-width="6" fill="none">
<line x1="135" y1="1691" x2="135" y2="1723"/>
<line x1="415" y1="1691" x2="415" y2="1723"/>
<line x1="695" y1="1691" x2="695" y2="1723"/>
<line x1="975" y1="1691" x2="975" y2="1723"/>
<line x1="1255" y1="1691" x2="1255" y2="1723"/>
<line x1="1535" y1="1691" x2="1535" y2="1723"/>
<line x1="1815" y1="1691" x2="1815" y2="1723"/>
<line x1="2095" y1="1691" x2="2095" y2="1723"/>
<line x1="2375" y1="1691" x2="2375" y2="1723"/>
<line x1="275" y1="1691" x2="275" y2="1706"/>
<line x1="555" y1="1691" x2="555" y2="1706"/>
<line x1="835" y1="1691" x2="835" y2="1706"/>
<line x1="1115" y1="1691" x2="1115" y2="1706"/>
<line x1="1395" y1="1691" x2="1395" y2="1706"/>
<line x1="1675" y1="1691" x2="1675" y2="1706"/>
<line x1="1955" y1="1691" x2="1955" y2="1706"/>
<line x1="2235" y1="1691" x2="2235" y2="1706"/>
</g>
<g class="data" shape-rendering="crispEdges" clip-path="url(#plotclip)">
<polyline stroke="#f00" stroke-width="8" points="135,1580 1144,1580 1149.7,1579.9 1152,1579.9 1157,1579.9 1157.7,1579.9 1160,1579.8 1162,1579.7 1162.7,1579.6 1163.5,1579.5 1164.5,1579.4 1165.2,1579.3 1165.7,1579.1 1165.8,1579.1 1166.1,1579 1166.4,1578.9 1166.7,1578.7 1167,1578.4 1167.3,1577.8 1167.6,1576.4 1167.7,1575.7 1167.9,1573.4 1168.2,1567.3 1168.5,1556.6 1168.8,1540.6 1169.1,1520.2 1169.2,1513 1169.4,1499.2 1169.7,1483.1 1170,1477 1170.2,1482.5 1170.3,1488.9 1170.6,1516.9 1170.9,1545.3 1171.2,1564.2 1171.5,1573.2 1171.8,1576.5 1172.1,1577.5 1172.4,1577.9 1172.7,1578 1173,1578.1 1173.3,1578.1 1173.6,1578.1 1173.9,1577.7 1174.2,1576.3 1174.5,1572.3 1174.8,1563.8 1175.1,1551 1175.4,1538.4 1175.5,1535.5 1175.7,1533 1176,1539.3 1176.3,1553.3 1176.5,1562.6 1176.6,1566.4 1176.9,1574.3 1177.2,1577.5 1177.5,1578.6 1177.8,1578.9 1178,1579 1178.1,1579 1178.4,1579.1 1178.7,1579.2 1179,1579.3 1179.3,1579.3 1179.6,1579.4 1179.9,1579.4 1180,1579.5 1180.5,1579.5 1181.2,1579.6 1182.2,1579.7 1183,1579.7 1183.7,1579.8 1185.7,1579.8 1188,1579.9 1188.7,1579.9 1193.7,1579.9 1196,1580 1495,1580 1502.8,1579.9 1503,1579.9 1508,1579.9 1510.8,1579.8 1511,1579.8 1513,1579.7 1514.5,1579.5 1515.5,1579.4 1515.8,1579.3 1516.2,1579.2 1516.8,1579.1 1517.1,1579 1517.4,1578.8 1517.7,1578.7 1518,1578.4 1518.3,1577.7 1518.6,1576.2 1518.8,1574.3 1518.9,1572.9 1519.2,1566.3 1519.5,1554.9 1519.8,1537.6 1520.1,1515.6 1520.4,1492.9 1520.7,1475.6 1520.8,1472 1521,1469 1521.3,1481.9 1521.6,1512.1 1521.9,1542.7 1522.2,1563.1 1522.3,1567.4 1522.5,1572.9 1522.8,1576.5 1523.1,1577.6 1523.3,1577.9 1523.4,1578 1523.7,1578.2 1524,1578.4 1524.3,1578.5 1524.6,1578.6 1524.9,1578.6 1525.2,1578.7 1525.5,1578.7 1525.8,1578.8 1526.1,1578.7 1526.4,1578.7 1526.5,1578.7 1526.7,1578.6 1527,1578.2 1527.3,1576.8 1527.5,1574.7 1527.6,1573 1527.9,1565 1528.2,1552.9 1528.5,1541.1 1528.8,1536 1529,1538.7 1529.1,1541.9 1529.4,1555 1529.7,1567.4 1530,1574.7 1530.3,1577.8 1530.6,1578.7 1530.9,1579 1531,1579.1 1531.2,1579.1 1531.5,1579.2 1531.8,1579.3 1532.1,1579.4 1532.4,1579.4 1532.7,1579.5 1533,1579.5 1533.6,1579.6 1534,1579.6 1534.3,1579.7 1535.3,1579.7 1536.8,1579.8 1538.8,1579.9 1539,1579.9 1541.8,1579.9 1546.8,1579.9 1547,1579.9 1554.8,1580 2375,1580"/>
<polyline stroke="#00f" stroke-width="8" points="135,1580 1008,1579.8 1014.2,1579.8 1022,1579.6 1028.2,1579.4 1030,1579.3 1035,1578.7 1036.2,1578.4 1038,1577.8 1040,1576.8 1041.2,1575.8 1041.5,1575.5 1042.5,1574.2 1043.2,1572.9 1043.8,1571.3 1044.1,1570.2 1044.2,1569.7 1044.4,1568.4 1044.7,1565 1045,1557.7 1045.3,1542.4 1045.6,1511.7 1045.9,1455.7 1046.2,1363.2 1046.5,1226.7 1046.8,1048.9 1047.1,848.1 1047.4,658.4 1047.7,521.2 1048,471 1048.3,600.7 1048.6,904.3 1048.7,1014 1048.9,1212 1049.2,1416.6 1049.4,1491.1 1049.5,1514.4 1049.8,1549.7 1050,1558 1050.1,1560.1 1050.3,1562.6 1050.4,1563.3 1050.6,1564.4 1050.7,1564.8 1050.9,1565.6 1051,1565.9 1051.2,1566.6 1051.3,1566.9 1051.5,1567.5 1051.6,1567.7 1051.8,1568.2 1051.9,1568.3 1052.1,1568.5 1052.2,1568.4 1052.4,1567.5 1052.7,1562.4 1052.8,1558.9 1053,1547.1 1053.3,1514.3 1053.5,1482.4 1053.6,1464.7 1053.9,1415.7 1054.2,1395 1054.5,1413.9 1054.8,1459 1055.1,1507.6 1055.4,1543.2 1055.7,1562.6 1056,1570.8 1056.3,1573.7 1056.6,1574.8 1056.9,1575.3 1057.2,1575.7 1057.5,1576 1057.8,1576.3 1058,1576.5 1058.1,1576.5 1058.4,1576.8 1059,1577.2 1059.7,1577.6 1060.7,1578 1061,1578.1 1062.2,1578.5 1064.2,1578.9 1066,1579.1 1067.2,1579.2 1072.2,1579.5 1074,1579.6 1080.2,1579.7 1088,1579.8 1094.2,1579.9 1159.5,1579.9 1165,1579.9 1173.5,1579.8 1179,1579.7 1181.5,1579.7 1186.5,1579.4 1187,1579.4 1189.5,1579.1 1191.5,1578.6 1192,1578.5 1193,1578.1 1194,1577.6 1194.7,1577.1 1195,1576.8 1195.3,1576.5 1195.6,1576 1195.9,1575.3 1196.2,1573.9 1196.5,1571 1196.8,1564.8 1197,1557.5 1197.1,1552.4 1197.4,1529.8 1197.7,1492.3 1198,1437.1 1198.3,1365.1 1198.5,1311.2 1198.6,1283.8 1198.9,1207 1199.2,1151.4 1199.5,1131 1199.8,1183.4 1200.1,1306.2 1200.2,1350.6 1200.4,1430.7 1200.7,1513.3 1200.8,1530.5 1201,1552.8 1201.1,1559.4 1201.3,1566.9 1201.4,1568.8 1201.6,1570.9 1201.7,1571.4 1201.9,1571.9 1202,1572.1 1202.2,1572.3 1202.3,1572.3 1202.5,1572.4 1202.6,1572.4 1202.8,1572.3 1202.9,1572.1 1203.1,1571.1 1203.2,1570.1 1203.4,1565.9 1203.5,1562.2 1203.7,1549.6 1203.8,1539.8 1204.1,1492.5 1204.3,1446.7 1204.4,1421.3 1204.7,1351 1205,1321 1205.3,1344.6 1205.6,1402.8 1205.9,1468.9 1206,1488.5 1206.2,1521.1 1206.5,1552.5 1206.8,1567.4 1207.1,1573.2 1207.4,1575.2 1207.5,1575.6 1207.7,1576 1208,1576.4 1208.3,1576.7 1208.6,1577 1208.9,1577.2 1209.2,1577.5 1209.5,1577.7 1209.8,1577.8 1210.5,1578.2 1211.5,1578.6 1212.5,1578.8 1213,1578.9 1215,1579.2 1217.5,1579.5 1218,1579.5 1223,1579.7 1225.5,1579.8 1231,1579.8 1239.5,1579.9 1245,1579.9 1397,1579.8 1402,1579.8 1411,1579.6 1416,1579.4 1419,1579.2 1424,1578.5 1427,1577.7 1429,1576.8 1430.5,1575.6 1431.5,1574.3 1432,1573.3 1432.2,1572.6 1432.8,1568.1 1433.1,1562.9 1433.4,1553.5 1433.7,1537.1 1434,1510.2 1434.3,1468.3 1434.6,1407.1 1434.9,1323.3 1435.2,1216.8 1435.5,1091.5 1435.8,956.5 1436.1,825.6 1436.4,715.3 1436.5,685.9 1436.7,641.3 1437,615 1437.2,666.9 1437.3,727.9 1437.6,992.2 1437.8,1178.2 1437.9,1260 1438.1,1390.1 1438.2,1437.7 1438.4,1502.1 1438.5,1522.1 1438.7,1545.7 1438.8,1552 1439,1558.6 1439.1,1560.1 1439.3,1561.6 1439.4,1561.9 1439.6,1562.1 1439.7,1562 1439.9,1561.2 1440,1560.1 1440.2,1555.5 1440.3,1551 1440.5,1533.8 1440.6,1519.1 1440.8,1471.8 1440.9,1436.8 1441.1,1341.1 1441.2,1280.8 1441.4,1143.8 1441.7,949 1441.8,904.1 1442,866 1442.3,901.5 1442.5,959.9 1442.6,997.1 1442.9,1126.7 1443.2,1260.4 1443.5,1374.7 1443.8,1458.8 1444.1,1512.9 1444.4,1543.7 1444.7,1559.5 1445,1567 1445.3,1570.3 1445.6,1571.9 1445.9,1572.8 1446.2,1573.4 1446.8,1574.3 1447,1574.6 1447.5,1575.2 1448.5,1576.1 1450,1577.1 1452,1578 1455,1578.7 1460,1579.2 1463,1579.4 1468,1579.6 1477,1579.8 1482,1579.8 2018,1579.9 2026,1579.9 2032,1579.8 2040,1579.6 2045,1579.3 2048,1578.9 2050,1578.4 2051.5,1577.8 2052.5,1577.2 2053,1576.7 2053.2,1576.6 2053.8,1575.8 2054.1,1575.3 2054.4,1574.4 2054.7,1572.7 2055,1569.1 2055.3,1561.3 2055.6,1545.9 2055.9,1517.5 2056,1504.2 2056.2,1470.6 2056.5,1401.4 2056.8,1311.2 2057.1,1209.3 2057.4,1113.1 2057.7,1043.5 2058,1018 2058.3,1083.8 2058.6,1237.9 2058.9,1394 2059.2,1497.7 2059.5,1547.2 2059.8,1565.1 2060.1,1570.3 2060.4,1571.8 2060.5,1572 2060.7,1572.5 2061,1572.9 2061.2,1573.2 2061.3,1573.3 2061.6,1573.7 2061.8,1573.8 2061.9,1573.9 2062.1,1574 2062.2,1574.1 2062.4,1574.2 2062.7,1574.3 2062.8,1574.3 2063,1574.3 2063.3,1574.2 2063.5,1574.2 2063.6,1574.1 2063.9,1573.5 2064.2,1571.1 2064.5,1562.5 2064.8,1538.5 2065.1,1488 2065.4,1412 2065.7,1337 2066,1305 2066.3,1330 2066.6,1392 2066.9,1462.3 2067.2,1517.8 2067.5,1551.2 2067.8,1567 2068,1571.8 2068.1,1573.2 2068.4,1575.3 2068.7,1576.1 2069,1576.5 2069.3,1576.8 2069.6,1577.1 2069.9,1577.3 2070.2,1577.5 2070.8,1577.9 2071,1578 2071.5,1578.2 2072.5,1578.6 2074,1578.9 2076,1579.2 2079,1579.5 2084,1579.7 2092,1579.8 2098,1579.9 2106,1579.9 2375,1580"/>
<polyline stroke="#0f0" stroke-width="8" points="135,1580 170.1,1580 170.5,1579.9 171.1,1579.9 171.8,1579.9 172.4,1579.9 172.5,1579.9 172.7,1579.9 173,1579.9 173.3,1579.9 173.6,1579.8 173.9,1579.8 174,1579.7 174.2,1579.6 174.5,1579.3 174.8,1578.6 175,1577.7 175.1,1577.2 175.4,1575 175.7,1572.1 176,1568.9 176.3,1566.5 176.6,1565.5 176.9,1567 177.2,1570.5 177.5,1574.4 177.8,1577.2 178.1,1578.7 178.4,1579.4 178.7,1579.5 179,1579.2 179.3,1578.4 179.6,1576.8 179.9,1574.7 180.2,1572.8 180.5,1572 180.8,1572.8 181.1,1574.8 181.4,1576.9 181.7,1578.5 182,1579.3 182.1,1579.5 182.3,1579.7 182.6,1579.8 182.9,1579.9 183.1,1579.9 183.2,1579.9 183.5,1579.9 183.8,1579.9 184.1,1579.9 184.4,1579.9 184.6,1579.9 184.7,1579.9 185.3,1579.9 186,1580 249.5,1580 250.8,1579.9 252.3,1579.9 252.5,1579.9 253.3,1579.9 254,1579.8 254.5,1579.8 254.6,1579.8 254.9,1579.8 255.2,1579.8 255.5,1579.7 255.8,1579.7 256,1579.6 256.1,1579.5 256.4,1579.2 256.7,1578.5 257,1577 257.3,1574.2 257.6,1569.7 257.7,1567.8 257.9,1563.6 258.2,1557.1 258.3,1555.1 258.5,1552 258.6,1550.9 258.8,1550 258.9,1550.4 259.1,1553.1 259.2,1555.2 259.4,1560.4 259.5,1563.2 259.7,1568.4 259.8,1570.7 260,1574.3 260.1,1575.6 260.3,1577.4 260.4,1578 260.6,1578.6 260.7,1578.7 260.9,1578.6 261,1578.4 261.2,1577.6 261.3,1577.1 261.5,1575.4 261.6,1574.4 261.8,1572 261.9,1570.8 262.1,1568.4 262.2,1567.4 262.4,1566.2 262.5,1566 262.7,1566.7 262.8,1567.4 263,1569.6 263.1,1570.9 263.4,1574.6 263.6,1576.5 263.7,1577.3 264,1578.8 264.3,1579.4 264.6,1579.6 264.9,1579.7 265.2,1579.8 265.3,1579.8 265.5,1579.8 265.8,1579.8 266.1,1579.8 266.4,1579.9 266.7,1579.9 266.8,1579.9 267.3,1579.9 268,1579.9 268.8,1579.9 269,1579.9 270.5,1579.9 271.8,1580 619.3,1580 619.5,1579.9 619.6,1579.9 619.9,1579.9 620.2,1579.7 620.5,1579.4 620.8,1579 621.1,1578.4 621.2,1578.1 621.4,1577.7 621.7,1577.2 621.8,1577.1 622,1577 622.1,1577 622.3,1577.3 622.4,1577.5 622.6,1578 622.7,1578.3 622.9,1578.8 623,1579.1 623.2,1579.4 623.3,1579.6 623.5,1579.7 623.6,1579.8 623.8,1579.9 623.9,1579.9 624.1,1579.9 624.2,1579.9 624.4,1579.9 624.5,1579.8 624.7,1579.8 624.8,1579.7 625,1579.5 625.1,1579.4 625.3,1579.2 625.4,1579 625.6,1578.8 625.7,1578.6 625.9,1578.5 626,1578.5 626.2,1578.6 626.3,1578.7 626.6,1579 626.8,1579.3 626.9,1579.4 627.2,1579.7 627.5,1579.9 627.8,1579.9 628.1,1580 929.2,1580 929.5,1579.9 929.8,1579.9 930.1,1579.9 930.4,1579.9 930.7,1579.9 931,1579.9 931.3,1579.9 931.5,1579.8 931.6,1579.8 931.9,1579.6 932.2,1579.1 932.5,1578.2 932.8,1576.8 933,1575.6 933.1,1574.9 933.4,1572.9 933.7,1571.3 934,1570.7 934.3,1571.7 934.6,1573.9 934.7,1574.8 934.9,1576.4 935.2,1578.2 935.3,1578.7 935.5,1579.2 935.6,1579.4 935.8,1579.7 935.9,1579.7 936.1,1579.8 936.2,1579.8 936.4,1579.8 936.5,1579.8 936.7,1579.9 936.8,1579.9 937,1579.9 937.1,1579.9 937.3,1579.9 937.4,1579.9 937.6,1579.8 937.7,1579.8 937.9,1579.7 938,1579.6 938.2,1579.4 938.3,1579.2 938.6,1578.4 938.8,1577.7 938.9,1577.4 939.2,1576.4 939.5,1576 939.8,1576.4 940.1,1577.4 940.4,1578.5 940.5,1578.8 940.7,1579.2 941,1579.7 941.3,1579.8 941.6,1579.9 941.9,1579.9 942,1579.9 942.2,1579.9 942.5,1579.9 942.8,1580 1085,1580 1086.5,1579.9 1088,1579.9 1090,1579.9 1091.5,1579.9 1092.5,1579.8 1093.2,1579.8 1093.8,1579.7 1094.1,1579.7 1094.4,1579.7 1094.5,1579.6 1094.7,1579.6 1095,1579.5 1095.3,1579.3 1095.6,1578.9 1095.9,1577.9 1096.2,1575.8 1096.5,1571.7 1096.8,1565.2 1097.1,1556.5 1097.4,1547.2 1097.7,1539.8 1098,1537 1098.3,1541.4 1098.6,1552 1098.9,1563.5 1099,1566.7 1099.2,1571.9 1099.5,1576.4 1099.7,1577.9 1099.8,1578.4 1100.1,1579 1100.3,1579.2 1100.4,1579.2 1100.6,1579.3 1100.7,1579.3 1100.9,1579.3 1101,1579.4 1101.2,1579.4 1101.3,1579.4 1101.5,1579.4 1101.6,1579.4 1101.8,1579.4 1101.9,1579.3 1102.1,1579.3 1102.2,1579.3 1102.4,1579.2 1102.7,1578.6 1102.8,1578.3 1103,1577.1 1103.3,1573.5 1103.5,1569.4 1103.6,1566.9 1103.9,1557.8 1104.2,1549.5 1104.5,1546 1104.8,1549.5 1105.1,1557.9 1105.4,1567 1105.7,1573.6 1106,1577.2 1106.3,1578.8 1106.6,1579.3 1106.9,1579.5 1107.2,1579.6 1107.5,1579.6 1107.8,1579.7 1108,1579.7 1108.1,1579.7 1108.4,1579.7 1108.7,1579.8 1109.3,1579.8 1110,1579.8 1111,1579.9 1112.5,1579.9 1114.5,1579.9 1116,1580 1238.8,1580 1239.1,1579.9 1239.4,1579.9 1239.5,1579.9 1239.7,1579.9 1240,1579.9 1240.3,1579.9 1240.6,1579.8 1240.9,1579.7 1241.2,1579.4 1241.5,1578.7 1241.8,1577.8 1242.1,1576.4 1242.4,1575 1242.7,1573.9 1243,1573.5 1243.3,1574.2 1243.6,1575.8 1243.9,1577.5 1244,1578 1244.2,1578.8 1244.5,1579.5 1244.7,1579.7 1244.8,1579.7 1245.1,1579.8 1245.3,1579.9 1245.4,1579.9 1245.6,1579.9 1245.7,1579.9 1245.9,1579.9 1246,1579.9 1246.2,1579.9 1246.3,1579.9 1246.5,1579.9 1246.6,1579.9 1246.8,1579.9 1246.9,1579.9 1247.1,1579.9 1247.2,1579.9 1247.4,1579.9 1247.7,1579.8 1247.8,1579.8 1248,1579.6 1248.3,1579.2 1248.5,1578.7 1248.6,1578.4 1248.9,1577.4 1249.2,1576.4 1249.5,1576 1249.8,1576.4 1250.1,1577.4 1250.4,1578.5 1250.7,1579.2 1251,1579.7 1251.3,1579.8 1251.6,1579.9 1251.9,1579.9 1252.2,1579.9 1252.5,1579.9 1252.8,1579.9 1253,1579.9 1253.1,1579.9 1253.4,1579.9 1253.7,1580 1262.5,1580 1264,1579.9 1265.6,1579.9 1267,1579.9 1267.5,1579.9 1269,1579.9 1270.5,1579.8 1270.6,1579.8 1271.5,1579.8 1272.2,1579.8 1272.8,1579.7 1273.1,1579.7 1273.4,1579.6 1273.6,1579.6 1273.7,1579.6 1274,1579.5 1274.3,1579.3 1274.6,1578.9 1274.9,1577.9 1275.2,1575.7 1275.5,1571.7 1275.6,1569.8 1275.8,1565.2 1276.1,1556.5 1276.4,1547.2 1276.7,1539.8 1277,1537 1277.1,1537.5 1277.3,1541.4 1277.6,1552 1277.9,1563.4 1278.1,1569.5 1278.2,1571.8 1278.5,1576.4 1278.8,1578.3 1279.1,1579 1279.4,1579.2 1279.7,1579.2 1280,1579.3 1280.3,1579.3 1280.6,1579.2 1280.9,1579.2 1281.2,1579.1 1281.5,1578.9 1281.8,1578.1 1282.1,1575.9 1282.4,1570.8 1282.5,1568.1 1282.7,1561.3 1283,1548.3 1283.3,1536.4 1283.5,1532 1283.6,1531.4 1283.9,1533.8 1284.2,1540.3 1284.5,1549.1 1284.8,1558.2 1285,1563.6 1285.1,1566 1285.4,1571.8 1285.7,1575.5 1286,1577.6 1286.3,1578.7 1286.6,1579.2 1286.9,1579.5 1287,1579.5 1287.2,1579.6 1287.5,1579.6 1287.8,1579.7 1288.4,1579.7 1289.1,1579.8 1289.5,1579.8 1290,1579.8 1290.1,1579.8 1291.5,1579.9 1291.6,1579.9 1293.6,1579.9 1295,1579.9 1296.6,1579.9 1298.5,1579.9 1301.6,1579.9 1303,1579.9 1305.5,1579.9 1306.5,1579.9 1309.6,1579.9 1311.5,1579.9 1313.5,1579.9 1314.5,1579.8 1316.5,1579.8 1317,1579.7 1318,1579.7 1318.5,1579.6 1319,1579.6 1319.7,1579.5 1320.3,1579.3 1320.6,1579.3 1320.9,1579.2 1321.2,1579 1321.5,1578.8 1321.8,1578.4 1322.1,1577.3 1322.4,1574.7 1322.7,1569.2 1323,1558.7 1323.3,1541.9 1323.5,1527.4 1323.6,1519.4 1323.9,1495.3 1324.2,1476.3 1324.5,1469 1324.8,1480.4 1325,1497.7 1325.1,1507.8 1325.4,1537.5 1325.7,1559.2 1326,1571 1326.3,1576 1326.6,1577.8 1326.7,1578 1326.9,1578.4 1327.2,1578.6 1327.3,1578.7 1327.5,1578.7 1327.6,1578.8 1327.8,1578.8 1327.9,1578.9 1328.1,1578.9 1328.2,1578.9 1328.4,1579 1328.5,1579 1328.7,1579 1328.8,1579 1329.1,1579 1329.3,1578.9 1329.4,1578.8 1329.7,1578.3 1330,1576.6 1330.3,1572.6 1330.6,1565.2 1330.9,1555.2 1331,1551.7 1331.2,1545.8 1331.5,1542 1331.8,1545.9 1332.1,1555.2 1332.4,1565.4 1332.5,1568.2 1332.7,1572.8 1333,1576.8 1333.3,1578.5 1333.6,1579.1 1333.9,1579.4 1334.2,1579.5 1334.5,1579.5 1334.8,1579.6 1335.1,1579.6 1335.4,1579.6 1335.7,1579.7 1336.3,1579.7 1337,1579.8 1337.3,1579.8 1337.5,1579.8 1338,1579.8 1339.5,1579.9 1341.5,1579.9 1342.5,1579.9 1343.7,1579.9 1344.5,1579.9 1349.5,1580 1364.5,1580 1365.7,1579.9 1367.3,1579.9 1369.3,1579.9 1370.7,1579.9 1370.8,1579.9 1371.5,1579.9 1371.8,1579.8 1372.5,1579.8 1373.1,1579.8 1373.4,1579.7 1373.7,1579.7 1374,1579.6 1374.3,1579.6 1374.6,1579.4 1374.9,1579 1375.2,1578.1 1375.5,1576.1 1375.7,1573.8 1375.8,1572.3 1376.1,1566.3 1376.4,1558.2 1376.7,1549.5 1377,1542.6 1377.2,1540.3 1377.3,1540 1377.6,1544.1 1377.9,1554 1378.2,1564.7 1378.5,1572.5 1378.8,1576.7 1378.9,1577.5 1379.1,1578.5 1379.4,1579.2 1379.5,1579.3 1379.7,1579.4 1379.8,1579.4 1380,1579.5 1380.1,1579.5 1380.3,1579.5 1380.4,1579.5 1380.6,1579.5 1380.7,1579.5 1380.9,1579.6 1381,1579.6 1381.2,1579.6 1381.3,1579.6 1381.5,1579.5 1381.6,1579.5 1381.9,1579.3 1382.1,1578.9 1382.2,1578.6 1382.5,1577.1 1382.8,1574.2 1383.1,1570.2 1383.4,1566.5 1383.7,1565 1383.8,1565.2 1384,1566.5 1384.3,1570.2 1384.6,1574.2 1384.9,1577.1 1385.2,1578.7 1385.3,1579 1385.5,1579.4 1385.8,1579.7 1386.1,1579.7 1386.4,1579.8 1386.7,1579.8 1387,1579.8 1387.3,1579.8 1387.6,1579.9 1387.9,1579.9 1388.5,1579.9 1389.2,1579.9 1390.2,1579.9 1390.3,1579.9 1391.7,1579.9 1393.7,1580 1539.4,1580 1541.6,1579.9 1542.4,1579.9 1544.4,1579.9 1545.9,1579.8 1546.6,1579.8 1546.9,1579.8 1547.6,1579.7 1548.2,1579.7 1548.5,1579.7 1548.8,1579.6 1549.1,1579.5 1549.4,1579.4 1549.6,1579.3 1549.7,1579.2 1550,1578.7 1550.3,1577.5 1550.6,1574.9 1550.9,1570 1551.2,1562.1 1551.5,1551.6 1551.6,1547.8 1551.8,1540.3 1552.1,1531.4 1552.4,1528 1552.7,1533.3 1553,1546.2 1553.1,1551 1553.3,1560.1 1553.6,1570.2 1553.9,1575.8 1554.1,1577.6 1554.2,1578.1 1554.5,1578.9 1554.8,1579.2 1555.1,1579.3 1555.4,1579.4 1555.7,1579.4 1556,1579.5 1556.3,1579.5 1556.6,1579.5 1556.9,1579.5 1557.2,1579.5 1557.5,1579.3 1557.8,1579 1557.9,1578.7 1558.1,1577.9 1558.4,1575.4 1558.7,1570.7 1558.9,1566.6 1559,1564.3 1559.3,1558.4 1559.6,1556 1559.9,1558.5 1560.2,1564.4 1560.4,1568.8 1560.5,1570.8 1560.8,1575.5 1561.1,1578 1561.4,1579.1 1561.7,1579.5 1562,1579.6 1562.3,1579.7 1562.4,1579.7 1562.6,1579.7 1562.9,1579.8 1563.2,1579.8 1563.5,1579.8 1563.8,1579.8 1564.4,1579.9 1565.1,1579.9 1565.4,1579.9 1566.1,1579.9 1567.6,1579.9 1569.6,1580 1630,1580 1632,1579.9 1633.5,1579.9 1634,1579.9 1634.5,1579.9 1635.2,1579.9 1635.8,1579.8 1636.1,1579.8 1636.4,1579.8 1636.7,1579.7 1637,1579.7 1637.3,1579.5 1637.6,1579.2 1637.9,1578.5 1638.2,1577 1638.5,1574.1 1638.8,1569.4 1639,1565.3 1639.1,1563.1 1639.4,1556.3 1639.7,1551 1640,1549 1640.3,1552.2 1640.5,1557 1640.6,1559.8 1640.9,1568.1 1641.2,1574.2 1641.5,1577.5 1641.8,1578.9 1642.1,1579.4 1642.2,1579.5 1642.4,1579.6 1642.7,1579.6 1642.8,1579.6 1643,1579.7 1643.1,1579.7 1643.3,1579.7 1643.4,1579.7 1643.6,1579.7 1643.7,1579.7 1643.9,1579.7 1644,1579.7 1644.2,1579.7 1644.3,1579.7 1644.6,1579.7 1644.8,1579.7 1644.9,1579.7 1645.2,1579.6 1645.5,1579.2 1645.8,1578.2 1646.1,1576.5 1646.4,1574.1 1646.5,1573.3 1646.7,1571.9 1647,1571 1647.3,1571.9 1647.6,1574.1 1647.9,1576.5 1648,1577.2 1648.2,1578.3 1648.5,1579.2 1648.8,1579.6 1649.1,1579.8 1649.4,1579.8 1649.7,1579.9 1650,1579.9 1650.3,1579.9 1650.6,1579.9 1650.9,1579.9 1651.2,1579.9 1651.8,1579.9 1652.5,1579.9 1653,1580 1892.2,1580 1892.6,1579.9 1893.2,1579.9 1893.9,1579.9 1894.5,1579.9 1894.8,1579.9 1895.1,1579.9 1895.4,1579.9 1895.6,1579.8 1895.7,1579.8 1896,1579.8 1896.3,1579.6 1896.6,1579.2 1896.9,1578.3 1897.2,1576.7 1897.5,1574.2 1897.6,1573.1 1897.8,1570.7 1898.1,1567 1898.4,1564.1 1898.7,1563 1899,1564.7 1899.1,1566 1899.3,1568.9 1899.6,1573.5 1899.9,1576.8 1900.1,1578.2 1900.2,1578.6 1900.5,1579.4 1900.8,1579.7 1901.1,1579.7 1901.4,1579.8 1901.7,1579.8 1902,1579.8 1902.3,1579.8 1902.6,1579.8 1902.9,1579.8 1903.2,1579.8 1903.5,1579.8 1903.8,1579.7 1904.1,1579.5 1904.2,1579.3 1904.4,1578.8 1904.7,1577.7 1905,1576.1 1905.2,1575 1905.3,1574.6 1905.6,1574 1905.9,1574.6 1906.2,1576.1 1906.5,1577.7 1906.7,1578.5 1906.8,1578.9 1907.1,1579.5 1907.4,1579.8 1907.7,1579.9 1908,1579.9 1908.3,1579.9 1908.6,1579.9 1908.7,1579.9 1908.9,1579.9 1909.2,1579.9 1909.5,1579.9 1909.8,1580 2005.8,1580 2006.1,1579.9 2006.4,1579.9 2006.7,1579.9 2007,1579.8 2007.3,1579.7 2007.6,1579.4 2007.9,1578.8 2008.2,1577.8 2008.5,1576.5 2008.8,1575 2009,1574.2 2009.1,1573.9 2009.4,1573.5 2009.7,1574.2 2010,1575.8 2010.3,1577.5 2010.5,1578.4 2010.6,1578.8 2010.9,1579.5 2011.2,1579.8 2011.5,1579.9 2011.8,1579.9 2012.1,1579.9 2012.2,1579.9 2012.4,1579.9 2012.7,1579.9 2012.8,1579.9 2013,1579.9 2013.1,1579.9 2013.3,1579.9 2013.4,1579.9 2013.6,1579.9 2013.7,1579.9 2014,1580 2014.3,1580 2014.6,1579.9 2014.9,1579.9 2015.2,1579.9 2015.5,1579.8 2015.8,1579.6 2015.9,1579.5 2016.1,1579.2 2016.4,1578.7 2016.7,1578.2 2017,1578 2017.3,1578.2 2017.4,1578.3 2017.6,1578.7 2017.9,1579.2 2018.2,1579.6 2018.5,1579.8 2018.8,1579.9 2019.1,1580 2073.9,1580 2074.2,1579.9 2074.5,1579.8 2074.8,1579.7 2075,1579.5 2075.1,1579.5 2075.4,1579.2 2075.7,1579.1 2076,1579 2076.3,1579.1 2076.6,1579.3 2076.9,1579.6 2077,1579.7 2077.2,1579.8 2077.5,1579.9 2077.8,1580 2083.2,1580 2083.5,1579.9 2083.8,1579.8 2084,1579.7 2084.1,1579.6 2084.4,1579.3 2084.7,1579.1 2085,1579 2085.3,1579.1 2085.6,1579.3 2085.9,1579.6 2086,1579.7 2086.2,1579.8 2086.5,1579.9 2086.8,1580 2229.6,1580 2229.9,1579.9 2230,1579.9 2230.2,1579.8 2230.5,1579.6 2230.8,1579.3 2231.1,1578.9 2231.4,1578.5 2231.7,1578.1 2232,1578 2232.3,1578.2 2232.6,1578.7 2232.9,1579.2 2233.2,1579.6 2233.5,1579.8 2233.8,1579.9 2234.1,1580 2238.5,1580 2238.8,1579.9 2239.1,1579.8 2239.4,1579.7 2239.7,1579.6 2240,1579.5 2240.3,1579.6 2240.6,1579.7 2240.9,1579.8 2241.2,1579.9 2241.5,1580 2333.9,1580 2334.2,1579.9 2334.5,1579.8 2334.8,1579.7 2335.1,1579.5 2335.4,1579.2 2335.7,1579.1 2336,1579 2336.3,1579.1 2336.6,1579.2 2336.9,1579.5 2337.2,1579.7 2337.5,1579.8 2337.8,1579.9 2338.1,1580 2375,1580"/>
<line x1="135" y1="1579.25" x2="2375" y2="1579.25" stroke="#0f0" stroke-width="6.5"/>
</g>
<g stroke-linecap="round" fill="none">
<line x1="182" y1="114" x2="359.5" y2="114" stroke="#000" stroke-width="12"/>
<line x1="182" y1="219.5" x2="359.5" y2="219.5" stroke="#f00" stroke-width="8.5"/>
<line x1="182" y1="325.5" x2="359.5" y2="325.5" stroke="#00f" stroke-width="8.5"/>
<line x1="182" y1="430.5" x2="359.5" y2="430.5" stroke="#0f0" stroke-width="8.5"/>
</g>
<g class="leg">
<text y="141.3"><tspan x="378">Magnelis</tspan><tspan x="701.5" font-size="73px">® </tspan><tspan x="776.5" font-size="86.6px">ZM430 coating</tspan></text>
<text x="379.5" y="246">Al</text>
<text x="376.5" y="351">Zn</text>
<text x="379.5" y="456.3">MgZn<tspan dx="-2.5" dy="27.3" font-size="59.5px">2</tspan></text>
</g>
<g class="tick">
<text x="133.5" y="1799.3" text-anchor="middle">20</text>
<text x="413.5" y="1799.3" text-anchor="middle">25</text>
<text x="693.5" y="1799.3" text-anchor="middle">30</text>
<text x="973.5" y="1799.3" text-anchor="middle">35</text>
<text x="1253.5" y="1799.3" text-anchor="middle">40</text>
<text x="1533.5" y="1799.3" text-anchor="middle">45</text>
<text x="1813.5" y="1799.3" text-anchor="middle">50</text>
<text x="2093.5" y="1799.3" text-anchor="middle">55</text>
<text x="2373.5" y="1799.3" text-anchor="middle">60</text>
</g>
<text class="ttl" x="1236.6" y="1895.2" text-anchor="middle">2 Theta (º)</text>
<text class="ttl" transform="translate(86.3,872) rotate(-90)" text-anchor="middle">Intensity (a.u.)</text>
</svg>
</body>
</html>
